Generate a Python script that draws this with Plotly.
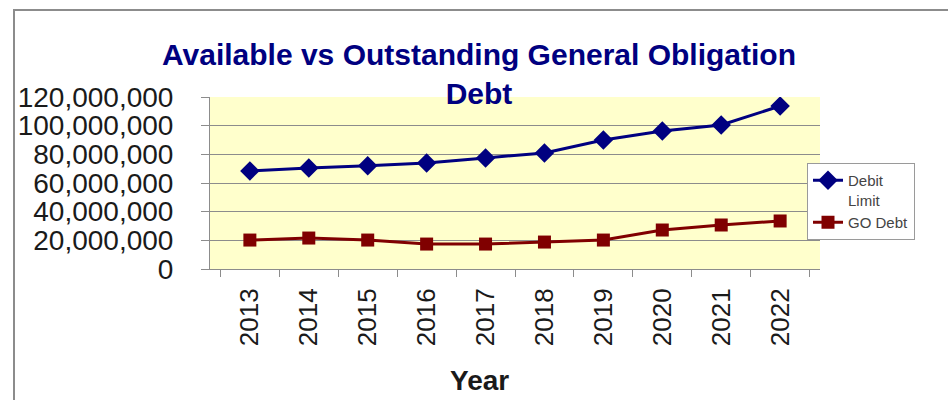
import plotly.graph_objects as go

years = ["2013", "2014", "2015", "2016", "2017", "2018", "2019", "2020", "2021", "2022"]
debt_limit = [68400000, 70500000, 72000000, 74000000, 77500000, 81000000, 90000000, 96300000, 100500000, 113700000]
go_debt = [20200000, 21600000, 20200000, 17400000, 17400000, 18800000, 20200000, 27200000, 30700000, 33500000]
y_ticks = [0, 20000000, 40000000, 60000000, 80000000, 100000000, 120000000]

W, H = 948, 400
L, R, T, B = 210, 128, 97, 131
pw, ph = W - L - R, H - T - B

def px2paper_x(px):
    return (px - L) / pw

def px2paper_y(py):
    return (H - B - py) / ph

fig = go.Figure()
fig.add_trace(go.Scatter(
    x=years, y=debt_limit, name="Debit<br>Limit", mode="lines+markers",
    line=dict(color="#000080", width=3),
    marker=dict(symbol="diamond", size=15, color="#000080"),
))
fig.add_trace(go.Scatter(
    x=years, y=go_debt, name="GO Debt", mode="lines+markers",
    line=dict(color="#800000", width=3),
    marker=dict(symbol="square", size=13, color="#800000"),
))

fig.update_layout(
    width=W, height=H,
    margin=dict(l=L, r=R, t=T, b=B),
    paper_bgcolor="white",
    plot_bgcolor="#FFFFCC",
    font=dict(family="Liberation Sans, Arial, sans-serif", color="#1a1a1a"),
    title=dict(
        text="<b>Available vs Outstanding General Obligation<br>Debt</b>",
        x=479 / W, xanchor="center",
        y=1 - 65 / H, yanchor="top",
        font=dict(size=30, color="#000080", family="Liberation Sans, Arial, sans-serif"),
    ),
    showlegend=True,
    legend=dict(
        x=px2paper_x(807), y=px2paper_y(163), xanchor="left", yanchor="top",
        bgcolor="white", bordercolor="#9a9a9a", borderwidth=1,
        font=dict(size=15, color="#444444"),
        tracegroupgap=10, valign="top",
    ),
    annotations=[dict(
        text="<b>Year</b>", xref="paper", yref="paper",
        x=px2paper_x(479), y=px2paper_y(380), xanchor="center", yanchor="middle",
        showarrow=False, font=dict(size=28, color="#1a1a1a"),
    )],
    shapes=[dict(
        type="rect", xref="paper", yref="paper",
        x0=px2paper_x(14), x1=px2paper_x(960),
        y0=px2paper_y(420), y1=px2paper_y(10),
        line=dict(color="#8c8c8c", width=2), fillcolor="rgba(0,0,0,0)",
        layer="below",
    )],
)

fig.update_xaxes(
    type="category",
    tickangle=-90,
    tickfont=dict(size=26, color="#1a1a1a"),
    ticks="outside", ticklen=7, tickcolor="#8c8c8c", tickson="boundaries",
    showline=True, linecolor="#8c8c8c", linewidth=1,
    showgrid=False,
    ticklabelstandoff=8,
)
fig.update_yaxes(
    range=[0, 120000000],
    tickvals=y_ticks,
    tickformat=",d",
    tickfont=dict(size=28, color="#1a1a1a"),
    ticks="outside", ticklen=8, tickcolor="#8c8c8c",
    ticklabelstandoff=22,
    showline=True, linecolor="#8c8c8c", linewidth=1,
    showgrid=True, gridcolor="#8c8c8c", gridwidth=1,
    zeroline=False,
)

fig.write_html("out.html")
